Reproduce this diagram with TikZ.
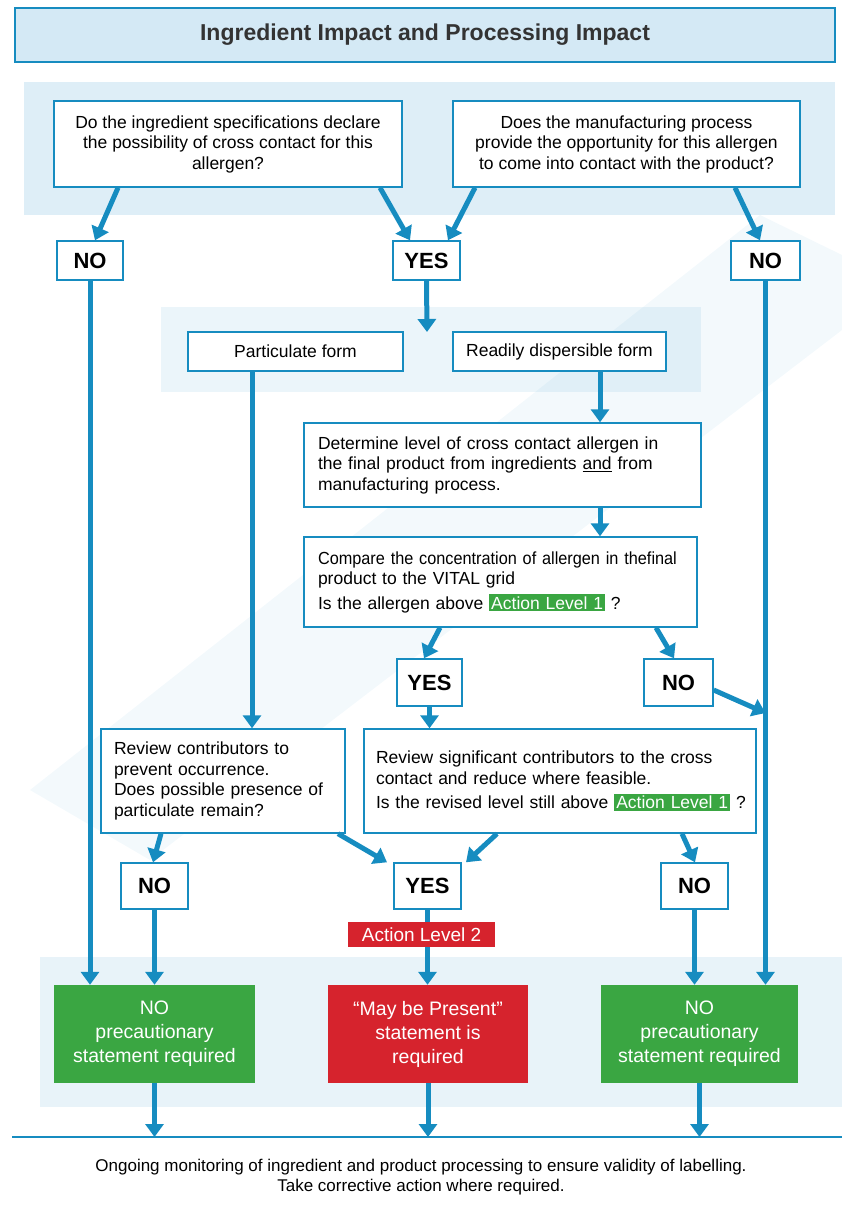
\documentclass[tikz,border=0pt]{standalone}
\usepackage{fontspec}
\setmainfont{Liberation Sans}
\newfontfamily\narrowfont[FakeStretch=0.93]{Liberation Sans}
\usetikzlibrary{arrows.meta}

\definecolor{vblue}{RGB}{22,140,192}
\definecolor{vgreen}{RGB}{58,166,66}
\definecolor{vred}{RGB}{214,35,45}
\definecolor{panelblue}{RGB}{222,238,247}
\definecolor{titleblue}{RGB}{212,233,245}

\newcommand{\actlevel}[1]{{\setlength{\fboxsep}{2pt}\colorbox{vgreen}{\textcolor{white}{#1}}}}

\begin{document}
\begin{tikzpicture}[x=1pt,y=-1pt,
  box/.style={draw=vblue, line width=1.4pt, fill=white, inner sep=0pt,
    font=\fontsize{17.5}{20.5}\selectfont},
  lbox/.style={box, align=left, inner xsep=14pt},
  ans/.style={box, minimum height=39pt, font=\fontsize{22}{24}\selectfont\bfseries},
  res/.style={fill=#1, text=white, align=center, inner sep=0pt, minimum height=98pt,
    font=\fontsize{19.5}{24}\selectfont},
  flow/.style={draw=vblue, line width=5pt, -{Triangle[width=18pt,length=13pt]}}]

\useasboundingbox (0,0) rectangle (842,1212);

% Background panels
\fill[panelblue] (24,82) rectangle (835,215);
\fill[panelblue!60] (161,307) rectangle (701,392);
\fill[panelblue!70] (40,957) rectangle (842,1107);

% Faint watermark band
\fill[vblue, fill opacity=0.05] (760,215) -- (842,255) -- (842,330) -- (150,860) -- (30,790) -- cycle;

% Title
\node[box, fill=titleblue, minimum width=820pt, minimum height=54pt, text=black!80,
  font=\fontsize{23}{26}\selectfont\bfseries] (title) at (425,35)
  {Ingredient Impact and Processing Impact};

% Questions
\node[box, align=center, minimum width=348pt, minimum height=86pt] (q1) at (228,144)
  {Do the ingredient specifications declare\\ the possibility of cross contact for this\\ allergen?};
\node[box, align=center, minimum width=347pt, minimum height=86pt] (q2) at (626.5,144)
  {Does the manufacturing process\\ provide the opportunity for this allergen\\ to come into contact with the product?};

\node[ans, minimum width=66pt] (no1) at (90,260.5) {NO};
\node[ans, minimum width=67pt] (yes1) at (426.5,260.5) {YES};
\node[ans, minimum width=69pt] (no2) at (765.5,260.5) {NO};

% Forms
\node[box, minimum width=215pt, minimum height=39pt] (part) at (295.5,351.5) {Particulate form};
\node[box, minimum width=213pt, minimum height=39pt] (disp) at (559.5,351.5) {Readily dispersible form};
\coordinate (forms) at (427,332);

% Level of cross contact
\node[lbox, text width=369pt, minimum height=84pt] (det) at (502.5,465)
  {Determine level of cross contact allergen in\\ the final product from ingredients \underline{and} from\\ manufacturing process.};
\node[lbox, text width=365pt, minimum height=90pt] (cmp) at (500.5,582)
  {\mbox{\narrowfont Compare the concentration of allergen in thefinal}\\ product to the VITAL grid\\[4pt]
   \mbox{Is the allergen above \actlevel{Action Level 1} ?}};

\node[ans, minimum width=65pt, minimum height=47pt] (yes2) at (429.5,682.5) {YES};
\node[ans, minimum width=69pt, minimum height=47pt] (no4) at (678.5,682.5) {NO};
\coordinate (rjoin) at (765.5,713);

% Reviews
\node[lbox, inner xsep=13pt, text width=218pt, minimum height=104pt] (revl) at (223,781)
  {Review contributors to\\ prevent occurrence.\\ Does possible presence of\\ particulate remain?};
\node[lbox, inner xsep=12pt, text width=368pt, minimum height=104pt] (revr) at (560,781)
  {Review significant contributors to the cross\\ contact and reduce where feasible.\\[4pt]
   \mbox{Is the revised level still above \actlevel{Action Level 1} ?}};

\node[ans, minimum width=67pt, minimum height=46pt] (no5) at (154.5,886) {NO};
\node[ans, minimum width=67pt, minimum height=46pt] (yes3) at (427.5,886) {YES};
\node[ans, minimum width=67pt, minimum height=46pt] (no6) at (694.5,886) {NO};

% Outcomes
\node[res=vgreen, minimum width=201pt] (gl) at (154.5,1034) {NO\\ precautionary\\ statement required};
\node[res=vred, minimum width=200pt] (rd) at (428,1034) {``May be Present''\\ statement is\\ required};
\node[res=vgreen, minimum width=197pt] (gr) at (699.5,1034) {NO\\ precautionary\\ statement required};

% Connectors
\draw[flow] (q1.south -| 118,0) -- (no1.north -| 95,0);
\draw[flow] (q1.south -| 380,0) -- (yes1.north -| 410,0);
\draw[flow] (q2.south -| 475,0) -- (yes1.north -| 448,0);
\draw[flow] (q2.south -| 735,0) -- (no2.north -| 760,0);
\draw[flow] (no1.south) -- (no1.south |- gl.north);
\draw[flow] (no2.south) -- (no2.south |- gr.north);
\draw[flow] (yes1.south) -- (forms);
\draw[flow] (part.south -| 252,0) -- (revl.north -| 252,0);
\draw[flow] (disp.south -| 600,0) -- (det.north -| 600,0);
\draw[flow] (det.south -| 600,0) -- (cmp.north -| 600,0);
\draw[flow] (cmp.south -| 440,0) -- (yes2.north -| 424,0);
\draw[flow] (cmp.south -| 656,0) -- (no4.north -| 674,0);
\draw[flow] (no4.east |- 0,690) -- (rjoin);
\draw[flow] (yes2.south) -- (yes2.south |- revr.north);
\draw[flow] (revl.south -| 161,0) -- (no5.north -| 153,0);
\draw[flow] (revl.south -| 338,0) -- (yes3.north -| 387,0);
\draw[flow] (revr.south -| 497,0) -- (yes3.north -| 466,0);
\draw[flow] (revr.south -| 682,0) -- (no6.north -| 695,0);
\draw[flow] (no5.south) -- (no5.south |- gl.north);
\draw[flow] (yes3.south) -- (yes3.south |- rd.north);
\draw[flow] (no6.south) -- (no6.south |- gr.north);

\node[fill=vred, text=white, minimum width=147pt, minimum height=25pt, inner sep=0pt,
  font=\fontsize{19}{21}\selectfont] (al2) at (421.5,934.5) {Action Level 2};

% Monitoring
\coordinate (base) at (0,1137);
\draw[vblue, line width=1.5pt] (12,1137) -- (842,1137);
\draw[flow] (gl.south) -- (gl.south |- base);
\draw[flow] (rd.south) -- (rd.south |- base);
\draw[flow] (gr.south) -- (gr.south |- base);

\node[align=center, font=\fontsize{17}{20}\selectfont] (note) at (421,1177)
  {Ongoing monitoring of ingredient and product processing to ensure validity of labelling.\\
   Take corrective action where required.};

\end{tikzpicture}
\end{document}
